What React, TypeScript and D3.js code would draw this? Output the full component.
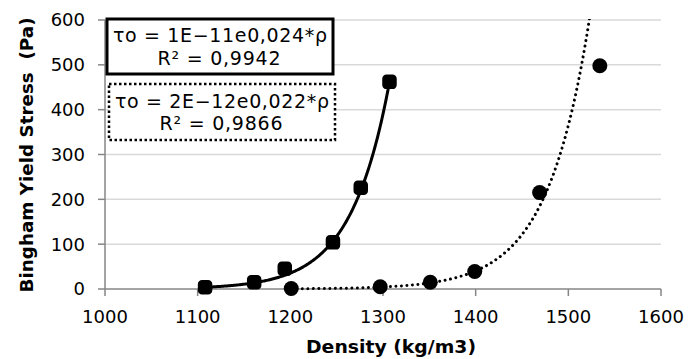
import React from "react";
import * as d3 from "d3";

const density1 = [1108, 1161, 1194, 1246, 1276, 1307];
const stress1 = [4, 15, 45, 104, 226, 462];
const density2 = [1201, 1297, 1351, 1399, 1469, 1534];
const stress2 = [1, 5, 15, 39, 215, 498];

// trendline coefficients (tau = a * exp(b * rho))
const trend1 = { a: 1.1e-11, b: 0.024 };
const trend2 = { a: 1.7e-12, b: 0.022 };

const xTicks = [1000, 1100, 1200, 1300, 1400, 1500, 1600];
const yTicks = [0, 100, 200, 300, 400, 500, 600];

const label1 = ["τo = 1E−11e0,024*ρ", "R² = 0,9942"];
const label2 = ["τo = 2E−12e0,022*ρ", "R² = 0,9866"];

const W = 689;
const H = 359;
const m = { left: 105, right: 28, top: 20, bottom: 70 };

export default function App() {
  const x = d3.scaleLinear().domain([1000, 1600]).range([m.left, W - m.right]);
  const y = d3.scaleLinear().domain([0, 600]).range([H - m.bottom, m.top]);

  const curve = (t: { a: number; b: number }, x0: number, x1: number) => {
    const pts: [number, number][] = [];
    const n = 200;
    for (let i = 0; i <= n; i++) {
      const xv = x0 + ((x1 - x0) * i) / n;
      pts.push([xv, t.a * Math.exp(t.b * xv)]);
    }
    return d3
      .line<[number, number]>()
      .x((d) => x(d[0]))
      .y((d) => y(d[1]))(pts) as string;
  };

  const font = "'DejaVu Sans', Verdana, sans-serif";
  const x0 = x(1000);
  const x1 = x(1600);
  const yb = y(0);

  return (
    <svg width={W} height={H} style={{ position: "absolute", left: 0, top: 0, background: "#fff" }}>
      <defs>
        <clipPath id="plot">
          <rect x={x0} y={y(600) - 1} width={x1 - x0} height={yb - y(600) + 10} />
        </clipPath>
      </defs>
      {yTicks.filter((t) => t > 0).map((t) => (
        <line key={t} x1={x0} x2={x1} y1={y(t)} y2={y(t)} stroke="#d9d9d9" strokeWidth={1.5} />
      ))}
      <line x1={x0} x2={x0} y1={y(600)} y2={yb} stroke="#868686" strokeWidth={1.5} />
      <line x1={x0} x2={x1} y1={yb} y2={yb} stroke="#868686" strokeWidth={1.5} />
      {yTicks.map((t) => (
        <g key={t}>
          <line x1={x0 - 7} x2={x0} y1={y(t)} y2={y(t)} stroke="#868686" strokeWidth={1.5} />
          <text x={x0 - 20} y={y(t)} dy="0.36em" textAnchor="end" fontFamily={font} fontSize={18} fill="#000">
            {t}
          </text>
        </g>
      ))}
      {xTicks.map((t) => (
        <g key={t}>
          <line x1={x(t)} x2={x(t)} y1={yb} y2={yb + 7} stroke="#868686" strokeWidth={1.5} />
          <text x={x(t)} y={yb + 34} textAnchor="middle" fontFamily={font} fontSize={18} fill="#000">
            {t}
          </text>
        </g>
      ))}
      <text x={391} y={353} textAnchor="middle" fontFamily={font} fontSize={17} fontWeight="bold" textLength={170} lengthAdjust="spacingAndGlyphs">
        Density (kg/m3)
      </text>
      <text
        transform={`translate(33,155) rotate(-90)`}
        textAnchor="middle"
        fontFamily={font}
        fontSize={17}
        fontWeight="bold"
        textLength={275}
        lengthAdjust="spacingAndGlyphs"
        xmlSpace="preserve"
      >
        Bingham Yield Stress  (Pa)
      </text>

      <g clipPath="url(#plot)">
        <path d={curve(trend1, density1[0], density1[density1.length - 1])} fill="none" stroke="#000" strokeWidth={3} />
        <path
          d={curve(trend2, density2[0], density2[density2.length - 1])}
          fill="none"
          stroke="#000"
          strokeWidth={3}
          strokeDasharray="0.01 5.5"
          strokeLinecap="round"
        />
      </g>
      {density1.map((d, i) => (
        <rect key={i} x={x(d) - 6} y={y(stress1[i]) - 6} width={12} height={12} rx={3} fill="#000" stroke="#000" strokeWidth={2.5} strokeLinejoin="round" />
      ))}
      {density2.map((d, i) => (
        <circle key={i} cx={x(d)} cy={y(stress2[i])} r={7.5} fill="#000" />
      ))}

      <rect x={107} y={19} width={226} height={55} fill="#fff" stroke="#000" strokeWidth={3} />
      <text x={220} y={42} textAnchor="middle" fontFamily={font} fontSize={19} textLength={214} lengthAdjust="spacing">{label1[0]}</text>
      <text x={219} y={65} textAnchor="middle" fontFamily={font} fontSize={19} textLength={123} lengthAdjust="spacing">{label1[1]}</text>

      <rect x={109} y={84} width={226} height={56} fill="#fff" stroke="#000" strokeWidth={2.5} strokeDasharray="2.5 2.5" />
      <text x={222} y={108} textAnchor="middle" fontFamily={font} fontSize={19} textLength={214} lengthAdjust="spacing">{label2[0]}</text>
      <text x={221} y={130} textAnchor="middle" fontFamily={font} fontSize={19} textLength={123} lengthAdjust="spacing">{label2[1]}</text>
    </svg>
  );
}
